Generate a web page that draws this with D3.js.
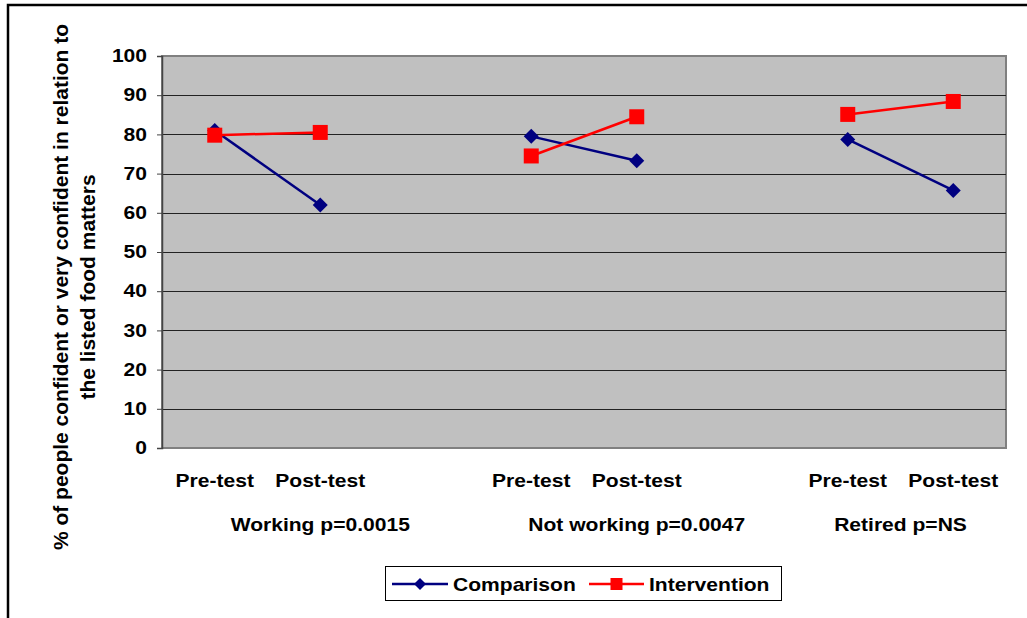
<!DOCTYPE html>
<html><head><meta charset="utf-8">
<script src="https://cdn.jsdelivr.net/npm/d3@7"></script>
<style>
html,body{margin:0;padding:0;background:#fff;}
svg{display:block;}
text{font-family:"Liberation Sans",Arial,sans-serif;font-weight:bold;fill:#000;}
</style></head>
<body>
<svg id="chart" width="1027" height="618"></svg>
<script>
const groups = ["Working p=0.0015", "Not working p=0.0047", "Retired p=NS"];
const phases = ["Pre-test", "Post-test"];
const seriesNames = ["Comparison", "Intervention"];
const comparison = [[81, 62], [79.5, 73.3], [78.7, 65.7]];
const intervention = [[79.8, 80.5], [74.5, 84.5], [85.1, 88.4]];
const yTicks = [0, 10, 20, 30, 40, 50, 60, 70, 80, 90, 100];
const yTitle = ["% of people confident or very confident in relation to", "the listed food matters"];

const svg = d3.select("#chart");
const SX = 1.17; // horizontal stretch of text
const plot = {left: 162, right: 1006, top: 56, bottom: 448};

// outer frame
svg.append("rect").attr("x", 8).attr("y", 5).attr("width", 1040).attr("height", 640)
  .attr("fill", "none").attr("stroke", "#000").attr("stroke-width", 2.5);

// slots: each group has Pre, Post and (except last) a blank slot
const slots = [];
groups.forEach((g, gi) => {
  phases.forEach((p, pi) => slots.push(gi + "|" + pi));
  if (gi < groups.length - 1) slots.push(gi + "|gap");
});
const x = d3.scaleBand().domain(slots).range([plot.left, plot.right]).padding(0);
const y = d3.scaleLinear().domain([0, 100]).range([plot.bottom, plot.top]);
const cx = (gi, pi) => x(gi + "|" + pi) + x.bandwidth() / 2;

// plot background
svg.append("rect").attr("x", plot.left).attr("y", plot.top)
  .attr("width", plot.right - plot.left).attr("height", plot.bottom - plot.top)
  .attr("fill", "#c0c0c0").attr("stroke", "#808080").attr("stroke-width", 2);

// gridlines
svg.append("g").selectAll("line").data(yTicks.filter(t => t > 0 && t < 100)).join("line")
  .attr("x1", plot.left).attr("x2", plot.right)
  .attr("y1", d => Math.round(y(d)) + 0.5).attr("y2", d => Math.round(y(d)) + 0.5)
  .attr("stroke", "#222").attr("stroke-width", 1.2);

// y axis
const yAxis = svg.append("g").attr("transform", `translate(${plot.left},0)`)
  .call(d3.axisLeft(y).tickValues(yTicks).tickSize(5).tickPadding(10));
yAxis.select(".domain").attr("stroke", "#444").attr("stroke-width", 1.5);
yAxis.selectAll(".tick line").attr("stroke", "#444");
yAxis.selectAll(".tick text").attr("font-size", 18).attr("font-family", '"Liberation Sans",Arial,sans-serif')
  .attr("font-weight", "bold").attr("fill", "#000")
  .attr("transform", function() { const xx = +d3.select(this).attr("x"); return `translate(${xx*(1-SX)},0) scale(${SX},1)`; });

function hText(xp, yp, str, anchor) {
  svg.append("text").attr("transform", `translate(${xp},${yp}) scale(${SX},1)`)
    .attr("text-anchor", anchor || "middle").attr("font-size", 18).text(str);
}

// category labels
groups.forEach((g, gi) => {
  phases.forEach((p, pi) => hText(cx(gi, pi), 487, p));
  const first = x(gi + "|0");
  const lastKey = gi < groups.length - 1 ? gi + "|gap" : gi + "|1";
  const last = x(lastKey) + x.bandwidth();
  hText((first + last) / 2, 531, g);
});

// y title
yTitle.forEach((t, i) => {
  svg.append("text").attr("transform", `translate(${68 + i * 27},287) rotate(-90)`)
    .attr("text-anchor", "middle").attr("font-size", 21).text(t);
});

// series
const colors = ["#000080", "#ff0000"];
const seriesData = [comparison, intervention];
function drawMarker(g, si, px, py, size) {
  if (si === 0) {
    g.append("path").attr("d", d3.symbol().type(d3.symbolSquare).size(size * size / 2)())
      .attr("transform", `translate(${px},${py}) rotate(45)`).attr("fill", colors[0]);
  } else {
    g.append("rect").attr("x", px - size / 2).attr("y", py - size / 2)
      .attr("width", size).attr("height", size).attr("fill", colors[1]);
  }
}
seriesData.forEach((ser, si) => {
  const g = svg.append("g");
  ser.forEach((vals, gi) => {
    const pts = vals.map((v, pi) => [cx(gi, pi), y(v)]);
    g.append("path").attr("d", d3.line()(pts)).attr("fill", "none")
      .attr("stroke", colors[si]).attr("stroke-width", 2.5);
  });
  ser.forEach((vals, gi) => vals.forEach((v, pi) => drawMarker(g, si, cx(gi, pi), y(v), 15)));
});

// legend
const lg = svg.append("g");
lg.append("rect").attr("x", 385.5).attr("y", 566.5).attr("width", 396).attr("height", 34)
  .attr("fill", "#fff").attr("stroke", "#000").attr("stroke-width", 1);
const legendItems = [{x0: 392, x1: 448, tx: 453}, {x0: 589, x1: 644, tx: 649}];
seriesNames.forEach((n, si) => {
  const it = legendItems[si];
  lg.append("line").attr("x1", it.x0).attr("x2", it.x1).attr("y1", 584).attr("y2", 584)
    .attr("stroke", colors[si]).attr("stroke-width", 2.5);
  drawMarker(lg, si, (it.x0 + it.x1) / 2, 584, 12);
  lg.append("text").attr("transform", `translate(${it.tx},590.5) scale(${SX},1)`)
    .attr("font-size", 18).text(n);
});
</script>
</body></html>
